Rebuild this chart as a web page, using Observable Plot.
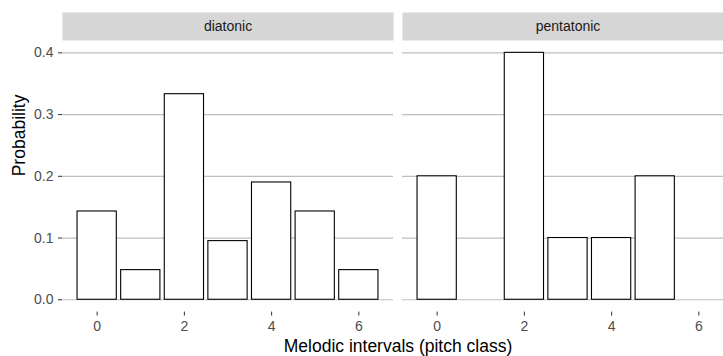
<!DOCTYPE html>
<html>
<head>
<meta charset="utf-8">
<script src="https://cdn.jsdelivr.net/npm/d3@7"></script>
<script src="https://cdn.jsdelivr.net/npm/@observablehq/plot@0.6"></script>
<style>
  html, body { margin: 0; padding: 0; background: #fff; overflow: hidden; }
  #chart { width: 723px; height: 356px; overflow: hidden; }
  #chart svg { max-width: none !important; width: 733px !important; height: 356px !important; }
</style>
</head>
<body>
<div id="chart"></div>
<script>
const scales = ["diatonic", "pentatonic"];
const diatonicIntervals = [0, 1, 2, 3, 4, 5, 6];
const diatonicProb = [0.143, 0.048, 0.333, 0.095, 0.190, 0.143, 0.048];
const pentatonicIntervals = [0, 2, 3, 4, 5];
const pentatonicProb = [0.2, 0.4, 0.1, 0.1, 0.2];
const xTicks = [0, 2, 4, 6];
const yTicks = [0, 0.1, 0.2, 0.3, 0.4];
const xTitle = "Melodic intervals (pitch class)";
const yTitle = "Probability";

const data = [
  ...diatonicIntervals.map((k, i) => ({scale: "diatonic", interval: k, p: diatonicProb[i]})),
  ...pentatonicIntervals.map((k, i) => ({scale: "pentatonic", interval: k, p: pentatonicProb[i]}))
];

const W = 733, H = 356, mt = 40, mb = 44.4, ml = 62, mr = 0;
const panelH = H - mt - mb;
const font = "'Liberation Sans', Arial, Helvetica, sans-serif";

const chart = Plot.plot({
  width: W,
  height: H,
  marginTop: mt,
  marginBottom: mb,
  marginLeft: ml,
  marginRight: mr,
  style: {fontFamily: font, fontSize: "14px", background: "#fff", color: "#000", maxWidth: "none"},
  fx: {domain: scales, paddingInner: 0.0265, paddingOuter: 0, axis: null, label: null},
  x: {domain: [-0.795, 6.795], axis: null},
  y: {domain: [-0.02, 0.42], axis: null},
  marks: [
    Plot.frame({fill: "#d6d6d6", stroke: null, insetTop: -28, insetBottom: panelH}),
    Plot.text(scales, {fx: d => d, text: d => d, frameAnchor: "top", dy: -14, lineAnchor: "middle", fill: "#1a1a1a", fontSize: 14}),
    Plot.gridY(yTicks, {stroke: "#bebebe", strokeOpacity: 1, strokeWidth: 1.2}),
    Plot.axisY(yTicks, {facetAnchor: "left", tickSize: 4, tickPadding: 5, tickFormat: d3.format(".1f"), stroke: "#333", fill: "#4d4d4d", fontSize: 14, label: null}),
    Plot.axisX(xTicks, {tickSize: 4, tickPadding: 5, stroke: "#333", fill: "#4d4d4d", fontSize: 14, label: null}),
    Plot.rect(data, {fx: "scale", x1: d => d.interval - 0.45, x2: d => d.interval + 0.45, y1: 0, y2: "p", fill: "white", stroke: "black", strokeWidth: 1.1}),
    Plot.text([xTitle], {facet: "super", frameAnchor: "bottom", dy: 34.4, lineAnchor: "middle", text: d => d, fontSize: 17.5, fill: "#000"}),
    Plot.text([yTitle], {facet: "super", frameAnchor: "left", dx: -43, rotate: -90, lineAnchor: "middle", text: d => d, fontSize: 17.5, fill: "#000"})
  ]
});
document.getElementById("chart").appendChild(chart);
</script>
</body>
</html>
